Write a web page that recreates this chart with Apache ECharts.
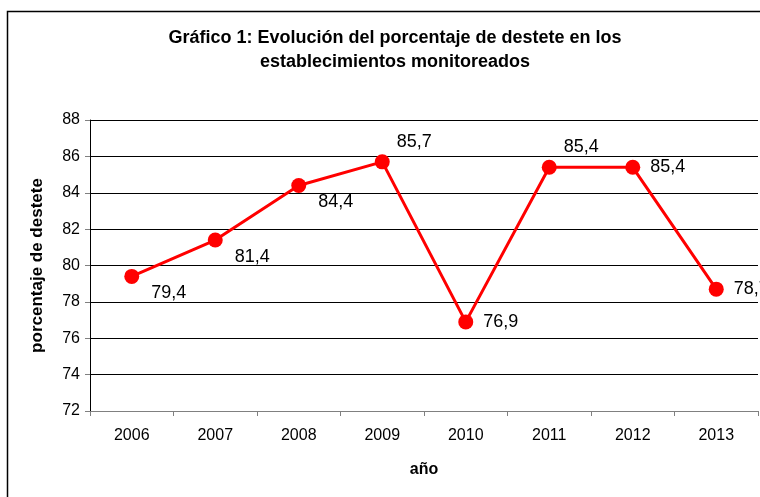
<!DOCTYPE html>
<html>
<head>
<meta charset="utf-8">
<script src="https://cdn.jsdelivr.net/npm/echarts@6/dist/echarts.min.js"></script>
<style>
  html, body { margin: 0; padding: 0; background: #fff; }
  #chart { width: 760px; height: 497px; }
</style>
</head>
<body>
<div id="chart"></div>
<script>
// datos del gráfico
const years = ["2006", "2007", "2008", "2009", "2010", "2011", "2012", "2013"];
const destete = [79.4, 81.4, 84.4, 85.7, 76.9, 85.4, 85.4, 78.7];
// posición de cada etiqueta respecto al punto
const labelPos = ["br", "br", "br", "tr", "r", "tr", "r", "r"];

const offsets = {
  br: [37, 17],
  tr: [32, -20],
  r: [35, 0]
};

const chart = echarts.init(document.getElementById("chart"));

const font = "'Liberation Sans', Arial, sans-serif";

let option = {
  animation: false,
  textStyle: { fontFamily: font },
  title: {
    text: "Gráfico 1: Evolución del porcentaje de destete en los\nestablecimientos monitoreados",
    left: 390,
    top: 21,
    textAlign: "center",
    textStyle: {
      fontSize: 18,
      fontWeight: "bold",
      color: "#000",
      lineHeight: 24,
      fontFamily: font
    }
  },
  graphic: [
    {
      type: "rect",
      shape: { x: 7.5, y: 11.5, width: 800, height: 600 },
      style: { fill: "none", stroke: "#000", lineWidth: 1.5 },
      silent: true
    }
  ],
  grid: {
    left: 90,
    right: 2,
    top: 120,
    bottom: 86
  },
  xAxis: {
    type: "category",
    data: years,
    name: "año",
    nameLocation: "middle",
    nameGap: 51,
    nameTextStyle: { fontSize: 16, fontWeight: "bold", color: "#000", fontFamily: font },
    axisLine: { lineStyle: { color: "#808080", width: 1 } },
    axisTick: { show: true, length: 5, lineStyle: { color: "#808080" } },
    axisLabel: { fontSize: 16, color: "#000", margin: 17, fontFamily: font }
  },
  yAxis: {
    type: "value",
    min: 72,
    max: 88,
    interval: 2,
    name: "porcentaje de destete",
    nameLocation: "middle",
    nameGap: 44,
    nameRotate: 90,
    nameTextStyle: { fontSize: 17, fontWeight: "bold", color: "#000", fontFamily: font },
    axisLine: { show: true, lineStyle: { color: "#000", width: 1 } },
    axisTick: { show: true, length: 5, lineStyle: { color: "#808080" } },
    axisLabel: { fontSize: 16, color: "#000", margin: 10, fontFamily: font },
    splitLine: { show: true, lineStyle: { color: "#000", width: 1 } }
  },
  series: [
    {
      type: "line",
      data: destete.map((v, i) => ({
        value: v,
        label: { offset: offsets[labelPos[i]] }
      })),
      symbol: "circle",
      symbolSize: 15,
      itemStyle: { color: "#FF0000" },
      lineStyle: { color: "#FF0000", width: 3 },
      label: {
        show: true,
        position: "inside",
        fontSize: 18,
        color: "#000",
        fontFamily: font,
        formatter: p => String(p.value).replace(".", ",")
      },
      z: 3
    }
  ]
};

chart.setOption(option);
window.addEventListener("resize", () => {
  chart.resize();
});
</script>
</body>
</html>
